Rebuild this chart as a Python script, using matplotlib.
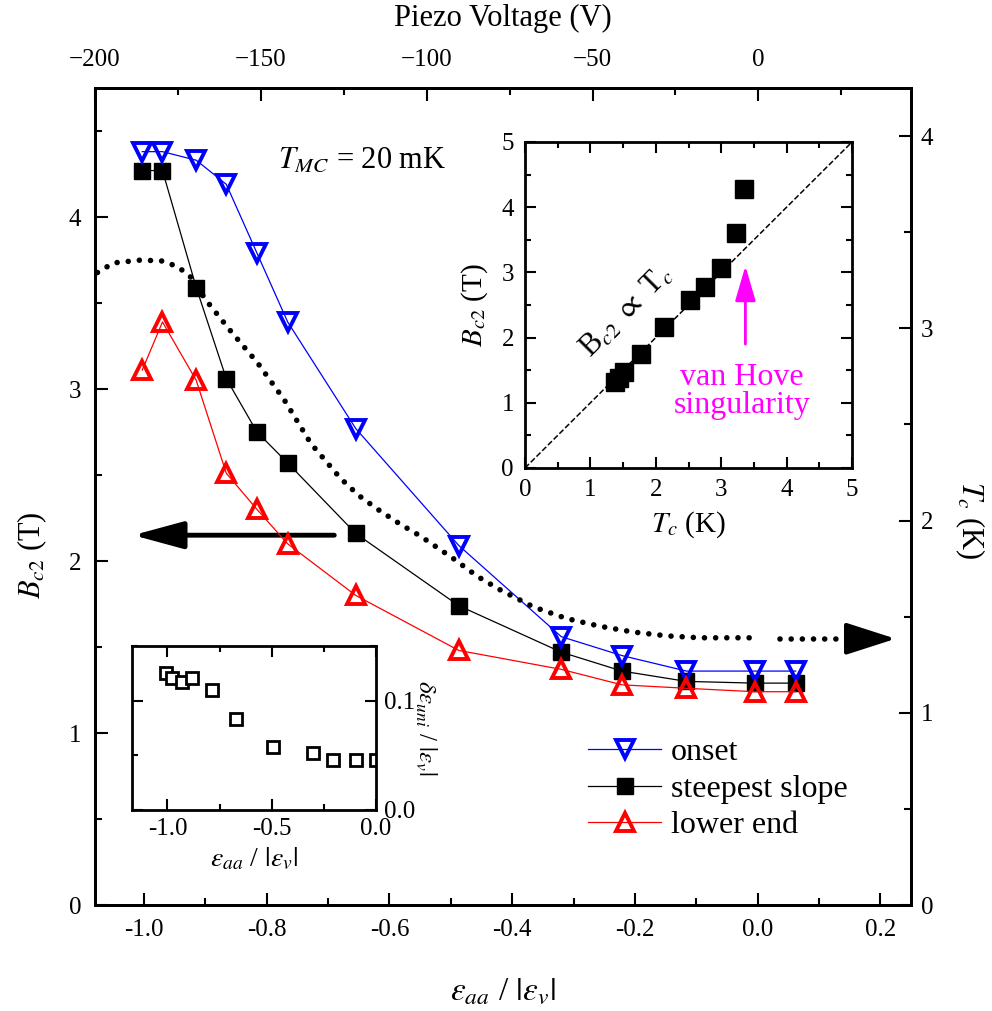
import matplotlib
matplotlib.use("Agg")
import matplotlib.pyplot as plt
from matplotlib.ticker import MultipleLocator

plt.rcParams["font.family"] = ["Liberation Serif", "DejaVu Serif"]
plt.rcParams["mathtext.fontset"] = "stix"

# main panel: Bc2 vs strain
strain = [-1.003, -0.970, -0.915, -0.866, -0.816, -0.766, -0.655, -0.487, -0.320, -0.221, -0.116, -0.005, 0.062]
bc2_onset = [4.38, 4.38, 4.33, 4.19, 3.79, 3.39, 2.77, 2.09, 1.56, 1.45, 1.36, 1.36, 1.36]
bc2_steep = [4.27, 4.27, 3.59, 3.06, 2.75, 2.57, 2.16, 1.74, 1.47, 1.36, 1.30, 1.29, 1.29]
bc2_lower = [3.11, 3.39, 3.05, 2.51, 2.30, 2.10, 1.80, 1.48, 1.37, 1.28, 1.26, 1.24, 1.24]

# Tc curve (right axis)
tc_strain = [-1.076, -1.05, -1.005, -0.97, -0.945, -0.925, -0.90, -0.86, -0.815, -0.772,
             -0.728, -0.68, -0.65, -0.62, -0.582, -0.55, -0.495, -0.457, -0.42, -0.365,
             -0.311, -0.257, -0.203, -0.148, -0.094, -0.013]
tc_curve = [3.29, 3.34, 3.355, 3.35, 3.32, 3.27, 3.15, 2.99, 2.82, 2.63,
            2.40, 2.22, 2.13, 2.06, 1.98, 1.92, 1.80, 1.71, 1.64, 1.55,
            1.49, 1.45, 1.42, 1.40, 1.39, 1.39]

# inset: Bc2 vs Tc
tc_inset = [3.35, 3.22, 3.00, 2.75, 2.53, 2.13, 1.78, 1.51, 1.43, 1.38]
bc2_inset = [4.28, 3.60, 3.07, 2.78, 2.58, 2.17, 1.75, 1.47, 1.38, 1.32]

# inset: uniaxial strain ratio
strain_uni = [-1.005, -0.976, -0.932, -0.884, -0.786, -0.670, -0.494, -0.301, -0.205, -0.097, -0.001]
delta_uni = [0.125, 0.121, 0.117, 0.121, 0.110, 0.083, 0.058, 0.052, 0.046, 0.0455, 0.0455]

W, H = 992, 1011
fig = plt.figure(figsize=(W / 100, H / 100), dpi=100)


def box(x0, y0, x1, y1):
    # pixel box -> figure fraction
    return [x0 / W, 1 - y1 / H, (x1 - x0) / W, (y1 - y0) / H]


def style_ticks(a, major=9, minor=5, size=18, **kw):
    a.tick_params(which="both", direction="in", width=1.5, labelsize=size, **kw)
    a.tick_params(which="major", length=major)
    a.tick_params(which="minor", length=minor)
    for s in a.spines.values():
        s.set_linewidth(2.0)


ax = fig.add_axes(box(95, 88, 911, 905))
ax.set_xlim(-1.08, 0.25)
ax.set_ylim(0, 4.75)
ax.xaxis.set_major_locator(MultipleLocator(0.2))
ax.xaxis.set_minor_locator(MultipleLocator(0.1))
ax.yaxis.set_major_locator(MultipleLocator(1))
ax.yaxis.set_minor_locator(MultipleLocator(0.5))
ax.xaxis.set_major_formatter(lambda v, p: "%.1f" % v if abs(v) > 1e-9 else "0.0")
style_ticks(ax, top=False, right=False, pad=10)

l_steep, = ax.plot(strain, bc2_steep, "-", color="black", lw=0.9, marker="s", ms=12,
                   mfc="black", mec="black", label="steepest slope", zorder=3)
l_onset, = ax.plot(strain, bc2_onset, "-", color="blue", lw=0.9, marker="v", ms=13,
                   mfc="none", mec="blue", mew=2.8, label="onset", zorder=4)
l_lower, = ax.plot(strain, bc2_lower, "-", color="red", lw=0.9, marker="^", ms=13,
                   mfc="none", mec="red", mew=2.8, label="lower end", zorder=5)

ax.set_xlabel(r"$\varepsilon_{aa}$ / $|\varepsilon_v|$", fontsize=24, labelpad=25)
ax.set_ylabel(r"$B_{c2}$ (T)", fontsize=22)
ax.yaxis.set_label_coords(-0.056, 0.428)

ax.text(-0.782, 4.33, r"$T_{MC}$ = 20 mK", fontsize=22, va="center", ha="left")

ax.annotate("", xy=(-1.018, 2.15), xytext=(-0.69, 2.15),
            arrowprops=dict(arrowstyle="-|>,head_length=1.4,head_width=0.38",
                            lw=3.5, color="black", mutation_scale=22,
                            shrinkA=0, shrinkB=0))

ax.legend(handles=[l_onset, l_steep, l_lower], loc="upper left",
          bbox_to_anchor=(588 / W, 1 - 738 / H), bbox_transform=fig.transFigure,
          frameon=False, fontsize=23, handlelength=2.3, handletextpad=0.3,
          labelspacing=0.22, borderpad=0, borderaxespad=0)

# right axis: Tc
ax_r = ax.twinx()
ax_r.set_ylim(0, 4.25)
ax_r.yaxis.set_major_locator(MultipleLocator(1))
ax_r.yaxis.set_minor_locator(MultipleLocator(0.5))
style_ticks(ax_r, left=False, top=False, pad=7)
ax_r.plot(tc_strain, tc_curve, color="black", lw=4,
          linestyle=(0, (0.01, 2.0)), dash_capstyle="round", zorder=2)
ax_r.plot([0.036, 0.20], [1.385, 1.385], color="black", lw=4,
          linestyle=(0, (0.01, 2.0)), dash_capstyle="round")
ax_r.annotate("", xy=(0.225, 1.385), xytext=(0.19, 1.385),
              arrowprops=dict(arrowstyle="-|>,head_length=1.4,head_width=0.45",
                              lw=3, color="black", mutation_scale=22,
                              shrinkA=0, shrinkB=0))
ax_r.set_ylabel(r"$T_c$ (K)", fontsize=22, rotation=-90, va="center")
ax_r.yaxis.set_label_coords(1.072, 0.471)

# top axis: piezo voltage
ax_t = ax.twiny()
ax_t.set_xlim(-200, 46)
ax_t.xaxis.set_major_locator(MultipleLocator(50))
ax_t.xaxis.set_minor_locator(MultipleLocator(25))
style_ticks(ax_t, bottom=False, pad=12)
ax_t.set_xlabel("Piezo Voltage (V)", fontsize=22, labelpad=17)

# inset 1: Bc2 vs Tc
ax_i = fig.add_axes(box(525, 142, 852, 468))
ax_i.set_xlim(0, 5)
ax_i.set_ylim(0, 5)
ax_i.xaxis.set_major_locator(MultipleLocator(1))
ax_i.xaxis.set_minor_locator(MultipleLocator(0.5))
ax_i.yaxis.set_major_locator(MultipleLocator(1))
ax_i.yaxis.set_minor_locator(MultipleLocator(0.5))
style_ticks(ax_i, major=8, minor=4, size=18, top=True, right=True, pad=8)
ax_i.plot([0, 5], [0, 5], "--", color="black", lw=1.1)
ax_i.plot(tc_inset, bc2_inset, "s", color="black", ms=13, zorder=3)
ax_i.text(1.56, 2.4, r"B$_{c2}$ $\propto$ T$_c$", fontsize=22, rotation=45,
          ha="center", va="center")
ax_i.annotate("", xy=(3.37, 3.1), xytext=(3.37, 1.9),
              arrowprops=dict(arrowstyle="-|>,head_length=1.2,head_width=0.35",
                              lw=2, color="magenta", mutation_scale=18,
                              shrinkA=0, shrinkB=0))
ax_i.text(3.32, 1.18, "van Hove\nsingularity", fontsize=23, color="magenta",
          ha="center", va="center", linespacing=0.95)
ax_i.set_xlabel(r"$T_c$ (K)", fontsize=21, labelpad=6)
ax_i.set_ylabel(r"$B_{c2}$ (T)", fontsize=21, labelpad=8)

# inset 2: uniaxial fraction
ax_u = fig.add_axes(box(132, 646, 376, 810))
ax_u.set_xlim(-1.17, 0.0)
ax_u.set_ylim(0, 0.15)
ax_u.xaxis.set_major_locator(MultipleLocator(0.5))
ax_u.xaxis.set_minor_locator(MultipleLocator(0.25))
ax_u.yaxis.set_major_locator(MultipleLocator(0.1))
ax_u.yaxis.set_minor_locator(MultipleLocator(0.05))
ax_u.xaxis.set_major_formatter(lambda v, p: "%.1f" % v if abs(v) > 1e-9 else "0.0")
style_ticks(ax_u, major=8, minor=4, size=18, top=True, right=True,
            labelleft=False, labelright=True, pad=6)
ax_u.plot(strain_uni, delta_uni, "s", color="black", mfc="white", mew=2, ms=9)
ax_u.set_xlabel(r"$\varepsilon_{aa}$ / $|\varepsilon_v|$", fontsize=20, labelpad=4)
ax_u.yaxis.set_label_position("right")
ax_u.set_ylabel(r"$\delta\varepsilon_{uni}$ / $|\varepsilon_v|$", fontsize=18,
                rotation=-90, labelpad=16)

fig.savefig("out.png", dpi=100)
